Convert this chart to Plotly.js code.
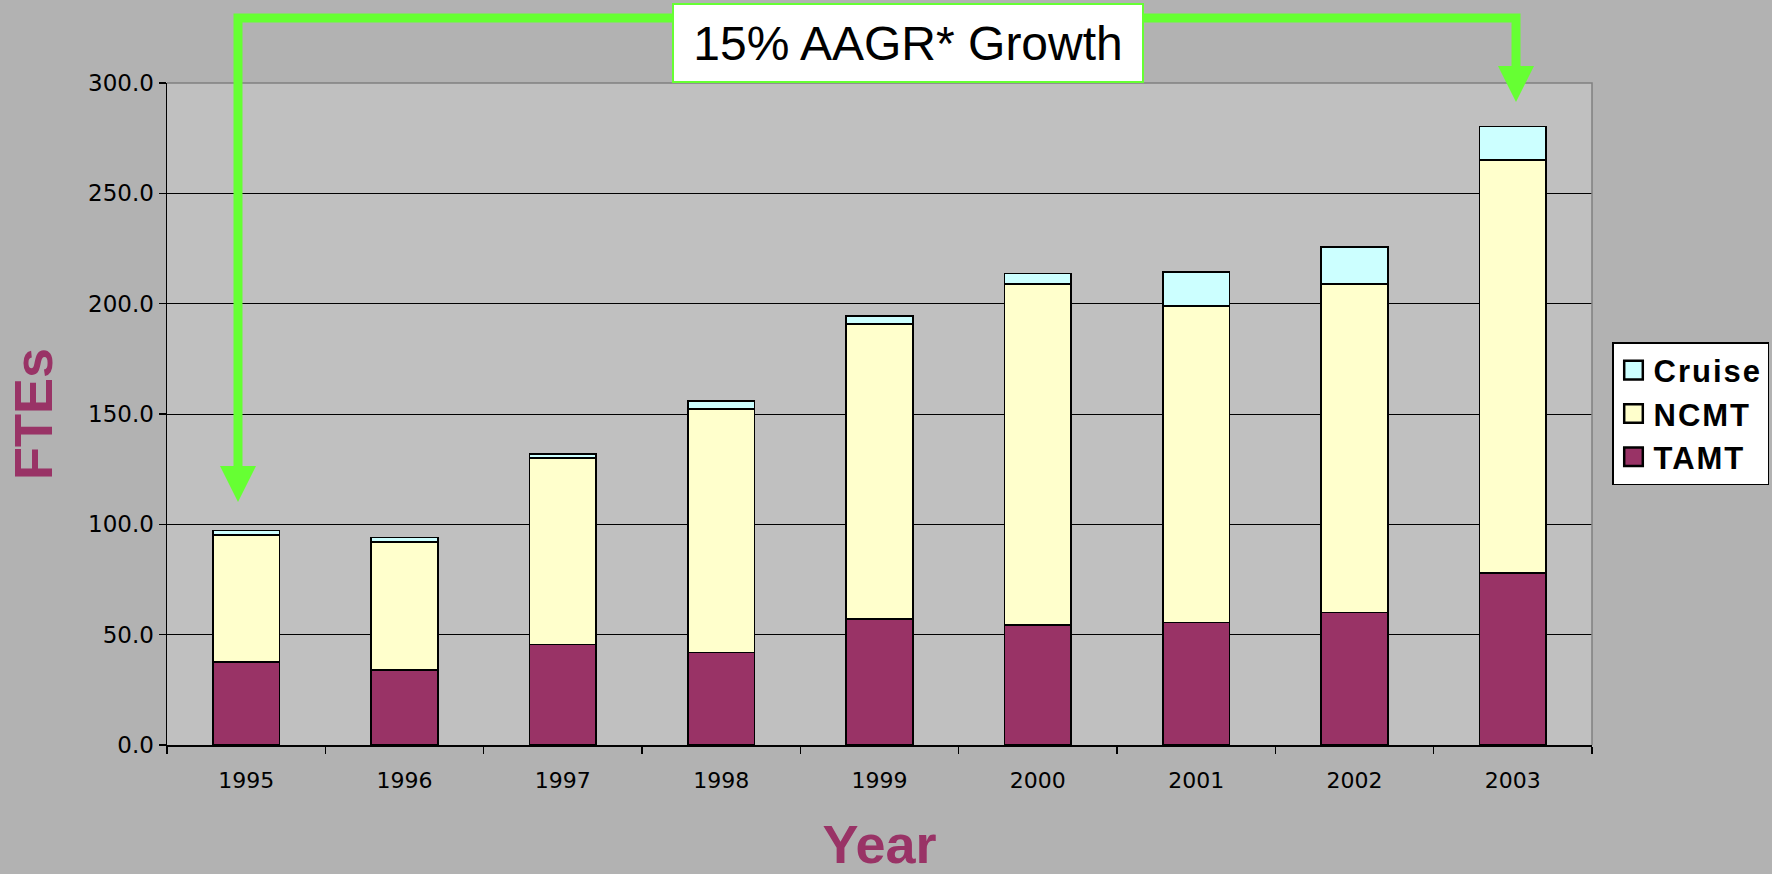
<!DOCTYPE html>
<html>
<head>
<meta charset="utf-8">
<script src="https://cdn.plot.ly/plotly-3.0.1.min.js"></script>
<style>
html,body{margin:0;padding:0;background:#B2B2B2;}
.legendtext{letter-spacing:2px;}
.legendpoints path{transform:translate(20px,0px) scale(1.55);}
</style>
</head>
<body>
<div id="chart" style="width:1772px;height:874px;"></div>
<script>
// ---- data ----
const years = ['1995','1996','1997','1998','1999','2000','2001','2002','2003'];
const tamt   = [37.5, 34.0, 45.5, 42.0, 57.0, 54.5, 55.5, 60.0, 78.0];
const ncmt   = [57.7, 58.0, 84.5, 110.3, 133.8, 154.3, 143.5, 148.8, 187.0];
const cruise = [2.0, 2.1, 1.8, 3.6, 3.6, 4.9, 15.3, 17.0, 15.3];
const seriesNames = ['TAMT', 'NCMT', 'Cruise'];
const annotationText = '15% AAGR* Growth';
const xTitle = 'Year';
const yTitle = 'FTEs';

// ---- layout helpers (pixel -> paper) ----
const W = 1772, H = 874;
const M = {l: 167, r: 180, t: 83, b: 129, autoexpand: false};
const pw = W - M.l - M.r, ph = H - M.t - M.b;
const px = x => ((x - M.l) / pw).toFixed(5);
const py = y => ((H - M.b - y) / ph).toFixed(5);

const lineStyle = {color: '#000000', width: 1.6};
const traces = [
  {name: seriesNames[0], x: years, y: tamt, type: 'bar', legendgroup: 'a',
   marker: {color: '#993366', line: lineStyle}},
  {name: seriesNames[1], x: years, y: ncmt, type: 'bar', legendgroup: 'b',
   marker: {color: '#FFFFCC', line: lineStyle}},
  {name: seriesNames[2], x: years, y: cruise, type: 'bar', legendgroup: 'c',
   marker: {color: '#CCFFFF', line: lineStyle}}
];

const green = '#66FF33';
const shapes = [
  // plot area border (top & right)
  {type: 'path', xref: 'paper', yref: 'paper', layer: 'above',
   path: 'M 0,1 L 1,1 L 1,0', line: {color: '#808080', width: 1.5}},
  // growth arrow line
  {type: 'path', xref: 'paper', yref: 'paper', layer: 'above',
   path: `M ${px(238)},${py(468)} L ${px(238)},${py(18)} L ${px(1516)},${py(18)} L ${px(1516)},${py(70)}`,
   line: {color: green, width: 9}},
  // arrow heads
  {type: 'path', xref: 'paper', yref: 'paper', layer: 'above',
   path: `M ${px(220)},${py(466)} L ${px(256)},${py(466)} L ${px(238)},${py(502)} Z`,
   fillcolor: green, line: {width: 0}},
  {type: 'path', xref: 'paper', yref: 'paper', layer: 'above',
   path: `M ${px(1498)},${py(66)} L ${px(1534)},${py(66)} L ${px(1516)},${py(102)} Z`,
   fillcolor: green, line: {width: 0}}
];

const annotations = [
  {xref: 'paper', yref: 'paper', x: px(908), y: py(43), xanchor: 'center', yanchor: 'middle',
   text: annotationText, showarrow: false, bgcolor: '#FFFFFF', bordercolor: green,
   borderwidth: 2, borderpad: 0, width: 468, height: 76,
   font: {family: 'Liberation Sans, Arial, sans-serif', size: 48, color: '#000000'}}
];

const layout = {
  width: W, height: H,
  margin: M,
  paper_bgcolor: '#B2B2B2',
  plot_bgcolor: '#C0C0C0',
  barmode: 'stack',
  bargap: 0.58,
  showlegend: true,
  legend: {
    xref: 'container', yref: 'container',
    x: 1612 / W, y: 1 - 342 / H, xanchor: 'left', yanchor: 'top',
    bgcolor: '#FFFFFF', bordercolor: '#000000', borderwidth: 1.5,
    traceorder: 'reversed', tracegroupgap: 6,
    font: {family: 'Liberation Sans, Arial, sans-serif', size: 31, color: '#000000', weight: 'bold'}
  },
  xaxis: {
    type: 'category', automargin: false,
    showline: true, linecolor: '#000000', linewidth: 1.5,
    ticks: 'outside', tickson: 'boundaries', ticklen: 7, tickcolor: '#000000', tickwidth: 1.5,
    showgrid: false, zeroline: false,
    ticklabelstandoff: 15,
    tickfont: {family: 'DejaVu Sans, sans-serif', size: 22, color: '#000000'},
    title: {text: xTitle, standoff: 46,
      font: {family: 'Liberation Sans, Arial, sans-serif', size: 54, color: '#993366', weight: 'bold'}}
  },
  yaxis: {
    range: [0, 300], dtick: 50, tickformat: '.1f', automargin: false,
    showline: true, linecolor: '#000000', linewidth: 1.5,
    ticks: 'outside', ticklen: 7, tickcolor: '#000000', tickwidth: 1.5,
    showgrid: true, gridcolor: '#000000', gridwidth: 1, zeroline: false,
    tickfont: {family: 'DejaVu Sans, sans-serif', size: 23, color: '#000000'},
    title: {text: yTitle, standoff: 18,
      font: {family: 'Liberation Sans, Arial, sans-serif', size: 54, color: '#993366', weight: 'bold'}}
  },
  shapes: shapes,
  annotations: annotations
};

Plotly.newPlot('chart', traces, layout, {displayModeBar: false, staticPlot: true});
</script>
</body>
</html>
